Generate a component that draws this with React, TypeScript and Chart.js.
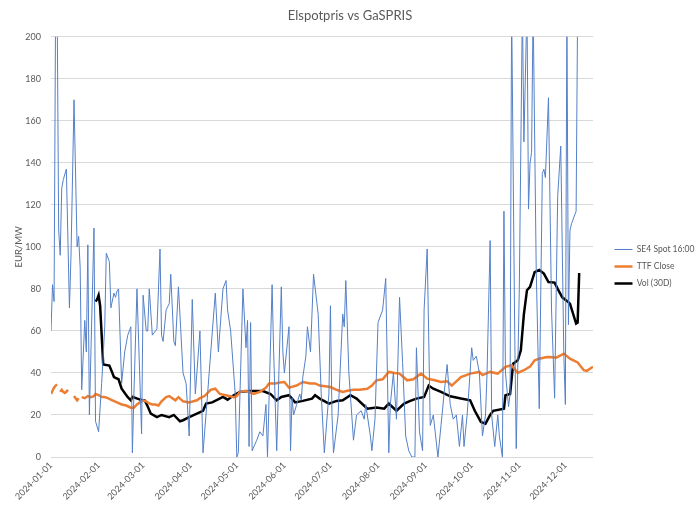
import React, { useEffect, useRef } from 'react';
import { Chart, registerables } from 'chart.js';

Chart.register(...registerables);

const TITLE = 'Elspotpris vs GaSPRIS';
const Y_TITLE = 'EUR/MW';
const SERIES_NAMES = ['SE4 Spot 16:00', 'TTF Close', 'Vol (30D)'];

// x axis: day offset from 2024-01-01
const monthTickDays = [0, 31, 60, 91, 121, 152, 182, 213, 244, 274, 305, 335];
const monthTickLabels = [
  '2024-01-01', '2024-02-01', '2024-03-01', '2024-04-01', '2024-05-01', '2024-06-01',
  '2024-07-01', '2024-08-01', '2024-09-01', '2024-10-01', '2024-11-01', '2024-12-01',
];
const LAST_DAY = 353;

const spotDays = [
  0, 1, 2, 3, 4, 5, 6, 7, 8, 10, 12, 13, 15, 17, 18, 19, 20, 22, 23, 24, 25, 28, 29, 31, 33, 35, 36, 38, 39, 41,
  42, 43, 44, 46, 48, 50, 52, 53, 54, 56, 59, 60, 62, 63, 64, 66, 68, 69, 71, 72, 73, 75, 77, 78, 80, 81, 83, 86, 88, 90,
  92, 94, 96, 97, 99, 102, 103, 107, 109, 112, 114, 115, 117, 120, 121, 122, 125, 127, 128, 129, 130, 131, 134, 136, 138, 140, 141, 144, 145, 147,
  150, 151, 152, 155, 156, 157, 158, 160, 162, 163, 164, 166, 167, 169, 171, 174, 176, 178, 181, 182, 183, 184, 187, 190, 191, 192, 194, 197, 199, 202,
  204, 205, 208, 209, 211, 213, 216, 218, 220, 221, 223, 225, 227, 229, 231, 233, 235, 237, 238, 240, 242, 243, 245, 247, 249, 252, 254, 256, 258, 260,
  262, 264, 266, 268, 269, 271, 272, 274, 275, 277, 279, 281, 283, 284, 286, 287, 289, 291, 292, 294, 295, 296, 298, 299, 300, 302, 303, 305, 307, 308,
  310, 311, 312, 313, 314, 316, 318, 320, 321, 322, 324, 326, 328, 330, 332, 334, 335, 336, 337, 338, 339, 342, 343,
];
const spotValues = [
  60, 82, 74, 215, 215, 108, 96, 128, 132, 137, 71, 95, 170, 100, 105, 90, 32, 65, 50, 101, 20, 109, 17, 12, 35, 62, 97, 93, 71, 78,
  76, 79, 80, 35, 50, 58, 62, 2, 30, 80, 11, 77, 60, 60, 80, 58, 60, 61, 99, 58, 55, 70, 73, 87, 55, 53, 81, 40, 35, 10,
  75, 30, 50, 60, 2, 30, 40, 78, 50, 80, 84, 70, 60, 30, 0, 2, 80, 52, 65, 5, 64, 3, 8, 12, 10, 25, 0, 82, 50, 3,
  81, 50, 40, 62, 3, 28, 20, 25, 30, 27, 38, 48, 62, 50, 87, 68, 30, 2, 30, 72, 20, 2, 20, 68, 62, 84, 40, 8, 20, 22,
  18, 25, 10, 3, 18, 64, 70, 85, 2, 25, 40, 18, 76, 45, 10, 3, 0, 0, 52, 12, 3, 70, 99, 15, 20, 0, 15, 30, 44, 25,
  18, 20, 5, 20, 5, 20, 30, 52, 46, 48, 40, 10, 20, 40, 103, 20, 5, 20, 10, 0, 117, 40, 24, 30, 215, 60, 4, 80, 215, 150,
  215, 118, 140, 145, 215, 90, 23, 135, 137, 133, 171, 70, 28, 124, 148, 49, 25, 215, 63, 108, 111, 117, 215,
];

const ttfDays = [
  0, 1, 2, 3, 4, 5, 6, 7, 8, 9, 10, 11, 13, 15, 16, 17, 18, 19, 20, 22, 24, 26, 28, 29, 31, 33, 35, 37, 40, 43,
  46, 49, 52, 54, 56, 58, 60, 62, 64, 66, 68, 70, 72, 75, 77, 79, 81, 83, 86, 90, 95, 97, 100, 104, 107, 110, 113, 116, 119, 121,
  123, 127, 132, 136, 140, 142, 146, 149, 152, 155, 160, 164, 169, 172, 175, 182, 186, 190, 193, 197, 201, 206, 209, 212, 216, 220, 224, 227, 232, 236,
  241, 245, 250, 254, 258, 261, 264, 267, 273, 279, 281, 286, 291, 296, 300, 304, 308, 312, 315, 318, 323, 327, 329, 334, 338, 343, 347, 349, 351, 353,
];
const ttfValues = [
  30, 31.5, 33, 34, 34.5, null, 31, 32, 31, 30.5, 31, 32, null, 29, 28, 27, 28, null, 28.5, 28, 29, 28.5, 29, 30, 29.5, 28.5, 28.5, 28, 27, 26,
  25, 24.5, 23.5, 23.5, 25, 26, 27, 26.5, 25.5, 25, 25, 24.5, 26.5, 28.5, 29, 28, 27, 28.5, 26.5, 26, 27, 28, 29, 32, 32.5, 30, 29.5, 29, 28.5, 29,
  31, 31.5, 30, 31, 33, 35, 35, 35.5, 35.7, 33, 34, 35.7, 35, 35, 34, 33.3, 32, 31, 31.5, 32, 32, 32.5, 34, 36.5, 37, 40.5, 40, 39.7, 36.5, 37,
  39.7, 37.3, 36.5, 35.7, 36, 34, 36, 38, 39.7, 40.5, 39, 40.5, 39.7, 42.9, 43.7, 40, 41.3, 43, 46, 46.8, 47.6, 47.5, 47.3, 49.2, 46.8, 45, 41.3, 41, 42, 43,
];

const volDays = [
  29, 30, 31, 32, 34, 38, 40, 41, 44, 46, 50, 52, 53, 58, 61, 63, 65, 69, 72, 77, 80, 84, 86, 90, 95, 99, 101, 105, 112, 115,
  119, 123, 129, 138, 143, 147, 150, 155, 159, 164, 170, 172, 175, 181, 186, 190, 195, 199, 206, 212, 217, 220, 225, 230, 234, 238, 243, 246, 249, 254,
  260, 267, 273, 276, 280, 283, 286, 288, 295, 296, 299, 301, 304, 306, 308, 310, 312, 315, 318, 321, 324, 328, 330, 333, 336, 338, 342, 343, 344,
];
const volValues = [
  74, 75, 77, 72, 44, 43.5, 40, 38, 37, 32.5, 28.5, 27, 28.6, 27.3, 27, 24, 20.6, 19, 20, 19, 20, 17, 17.5, 19, 20.6, 22, 25.4, 26, 28.6, 27.3,
  29.4, 31, 31.4, 31.4, 30, 27, 28.6, 29.4, 26, 26.7, 27.8, 29.4, 27.8, 25.4, 26.7, 27, 29.4, 27.8, 23, 23.5, 23, 25.4, 22, 25.4, 26.7, 27.8, 28.6, 34, 32.5, 31,
  28.9, 27.8, 27, 22, 16.7, 15.9, 20, 22, 23, 29.4, 30, 44.4, 46, 50.8, 68, 79.4, 81, 88, 89, 87.3, 83.3, 83, 80, 76, 74.3, 73, 63.5, 64, 87.6,
];

const FONT = 'Lato, "Liberation Sans", sans-serif';
const TEXT_COLOR = '#595959';
const GRID_COLOR = '#d9d9d9';

const toPoints = (days: number[], values: (number | null)[]) =>
  days.map((d, i) => ({ x: d, y: values[i] }));

export default function App() {
  const canvasRef = useRef<HTMLCanvasElement | null>(null);

  useEffect(() => {
    const canvas = canvasRef.current;
    if (!canvas) return;
    const chart = new Chart(canvas, {
      type: 'line',
      data: {
        datasets: [
          {
            label: SERIES_NAMES[0],
            data: toPoints(spotDays, spotValues),
            borderColor: '#5580c8',
            backgroundColor: '#5580c8',
            borderWidth: 1,
            pointRadius: 0,
            tension: 0,
          },
          {
            label: SERIES_NAMES[1],
            data: toPoints(ttfDays, ttfValues),
            borderColor: '#ED7D31',
            backgroundColor: '#ED7D31',
            borderWidth: 2.5,
            pointRadius: 0,
            tension: 0,
            spanGaps: false,
          },
          {
            label: SERIES_NAMES[2],
            data: toPoints(volDays, volValues),
            borderColor: '#000000',
            backgroundColor: '#000000',
            borderWidth: 2.5,
            pointRadius: 0,
            tension: 0,
          },
        ],
      },
      options: {
        responsive: false,
        animation: false,
        layout: { padding: { left: 0, right: 0, top: 0, bottom: 0 } },
        scales: {
          x: {
            type: 'linear',
            min: 0,
            max: LAST_DAY,
            afterBuildTicks: (scale: any) => {
              scale.ticks = monthTickDays.map((v) => ({ value: v }));
            },
            afterFit: (scale: any) => {
              scale.height = 50;
            },
            ticks: {
              autoSkip: false,
              maxRotation: 45,
              minRotation: 45,
              padding: 3,
              color: TEXT_COLOR,
              font: { family: FONT, size: 9 },
              callback: (value: any) => {
                const i = monthTickDays.indexOf(Number(value));
                return i >= 0 ? monthTickLabels[i] : '';
              },
            },
            grid: { display: false, drawTicks: false },
            border: { display: false },
          },
          y: {
            type: 'linear',
            position: 'left',
            min: 0,
            max: 200,
            afterFit: (scale: any) => {
              scale.width = 51;
            },
            ticks: {
              stepSize: 20,
              padding: 10,
              color: TEXT_COLOR,
              font: { family: FONT, size: 9 },
            },
            grid: { color: GRID_COLOR, drawTicks: false, lineWidth: 1 },
            border: { display: false },
            title: {
              display: true,
              text: Y_TITLE,
              color: TEXT_COLOR,
              font: { family: FONT, size: 9.5 },
              padding: { top: 13, bottom: 0 },
            },
          },
          gap: {
            type: 'linear',
            position: 'right',
            display: true,
            afterFit: (scale: any) => {
              scale.width = 13;
            },
            ticks: { display: false },
            grid: { display: false, drawTicks: false },
            border: { display: false },
          },
        },
        plugins: {
          title: {
            display: true,
            text: TITLE,
            color: TEXT_COLOR,
            font: { family: FONT, size: 13, weight: 'normal' },
            padding: { top: 8, bottom: 13.2 },
          },
          legend: {
            position: 'right',
            align: 'center',
            maxWidth: 94,
            title: {
              display: true,
              text: ' ',
              font: { family: FONT, size: 10 },
              padding: { top: 7, bottom: 7 },
            },
            labels: {
              usePointStyle: true,
              pointStyle: 'line',
              pointStyleWidth: 18,
              color: TEXT_COLOR,
              font: { family: FONT, size: 8.5 },
              padding: 8.5,
            },
          },
          tooltip: { enabled: false },
        },
      },
    } as any);
    return () => chart.destroy();
  }, []);

  return (
    <div style={{ position: 'fixed', left: 0, top: 0, width: 700, height: 507, background: '#fff' }}>
      <canvas ref={canvasRef} width={700} height={507} />
    </div>
  );
}
